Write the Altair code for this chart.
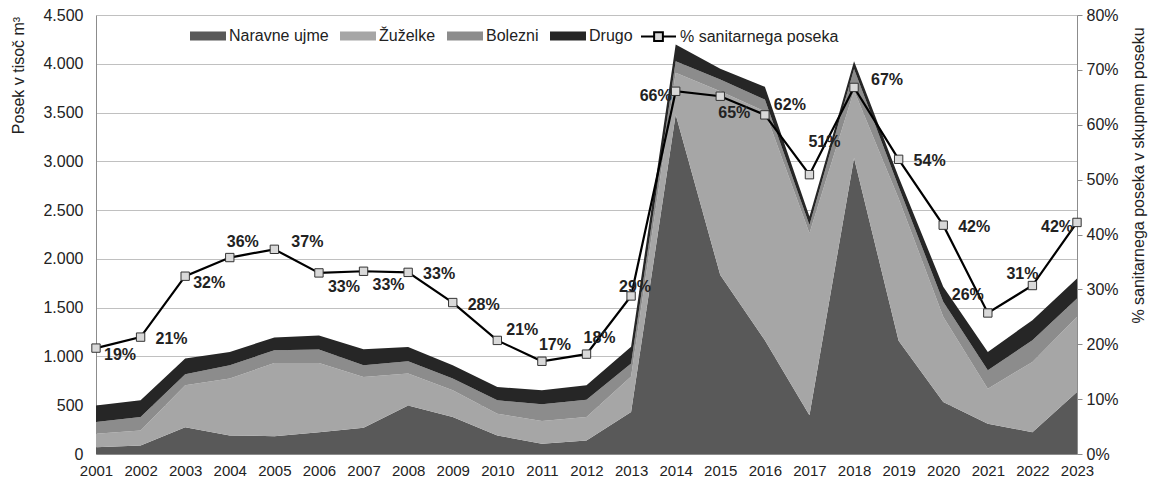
import altair as alt
import pandas as pd

# ---------------- data ----------------
years = list(range(2001, 2024))
naravne_ujme = [70, 87, 275, 190, 183, 224, 269, 498, 378, 190, 105, 139, 430,
                3479, 1834, 1167, 396, 3034, 1160, 532, 310, 224, 635]
zuzelke = [138, 154, 429, 583, 750, 709, 520, 326, 275, 223, 232, 239, 365,
           429, 1885, 2346, 1867, 693, 1460, 874, 360, 720, 771]
bolezni = [119, 137, 113, 137, 131, 138, 121, 127, 120, 137, 172, 179, 132,
           119, 119, 120, 85, 220, 120, 154, 188, 222, 189]
drugo = [171, 172, 161, 136, 130, 144, 164, 147, 137, 137, 144, 147, 173,
         171, 110, 131, 86, 80, 100, 154, 188, 206, 205]
pct_sanitarni = [19.3, 21.3, 32.4, 35.8, 37.3, 33.0, 33.3, 33.1, 27.6, 20.7, 16.9, 18.2, 28.8,
                 66.1, 65.2, 61.8, 50.9, 66.8, 53.7, 41.7, 25.7, 30.7, 42.2]
# data-label placement category for each year (Excel-like manual placement)
label_place = ["br", "r", "br", "a", "rh", "b", "b", "r", "r", "ar", "a", "a", "an",
               "l", "bn", "ar", "aa", "rh", "r", "r", "al", "al2", "l"]

series_names = ["Naravne ujme", "Žuželke", "Bolezni", "Drugo"]
line_name = "% sanitarnega poseka"

# ---------------- styles ----------------
series_colors = ["#595959", "#a6a6a6", "#8c8c8c", "#262626"]
place_offsets = {
    "r": (31, 2), "rh": (33, -7), "br": (24, 7), "b": (25, 14), "bn": (14, 17),
    "a": (13, -16), "ar": (25, -10), "an": (4, -9), "aa": (15, -33),
    "l": (-20, 5), "al": (-20, -18), "al2": (-10, -12),
}
FONT = "Liberation Sans"
TXT = "#222222"

# ---------------- tables ----------------
rows = []
for i, (name, vals) in enumerate(zip(series_names, [naravne_ujme, zuzelke, bolezni, drugo])):
    for y, v in zip(years, vals):
        rows.append({"year": y, "series": name, "value": v, "ord": i})
df_area = pd.DataFrame(rows)

df_pct = pd.DataFrame({
    "year": years,
    "pct": pct_sanitarni,
    "label": [f"{round(p):.0f}%" for p in pct_sanitarni],
    "place": label_place,
    "name": [line_name] * len(years),
})

x_enc = alt.X("year:Q",
              scale=alt.Scale(domain=[2001, 2023], nice=False, zero=False),
              axis=alt.Axis(values=years, format="d", title=None, labelFontSize=15,
                            labelFont=FONT, labelColor=TXT, ticks=False,
                            domainColor="#8c8c8c", grid=False, labelPadding=9,
                            labelOverlap=False, labelFlush=False))

left_axis = alt.Axis(values=list(range(0, 4501, 500)),
                     labelExpr="replace(format(datum.value, ','), ',', '.')",
                     grid=True, gridColor="#c0c0c0", gridWidth=1,
                     domainColor="#8c8c8c", ticks=False, labelPadding=13,
                     labelFontSize=16, labelFont=FONT, labelColor=TXT,
                     title="Posek v tisoč m³", titleFont=FONT, titleFontSize=16,
                     titleFontWeight="normal", titleColor=TXT, titleAngle=-90,
                     titleX=-78, titleY=60, titleAlign="center", titleBaseline="middle")

right_axis = alt.Axis(values=list(range(0, 81, 10)), labelExpr="datum.value + '%'",
                      orient="right", grid=False, domainColor="#8c8c8c",
                      tickColor="#8c8c8c", tickSize=5, labelPadding=4,
                      labelFontSize=16, labelFont=FONT, labelColor=TXT,
                      title="% sanitarnega poseka v skupnem poseku", titleFont=FONT,
                      titleFontSize=16, titleFontWeight="normal", titleColor=TXT,
                      titleAngle=-90, titleX=61, titleY=160, titleAlign="center",
                      titleBaseline="middle")

areas = alt.Chart(df_area).mark_area(opacity=1).encode(
    x=x_enc,
    y=alt.Y("value:Q", stack="zero", scale=alt.Scale(domain=[0, 4500], nice=False),
            axis=left_axis),
    color=alt.Color("series:N",
                    scale=alt.Scale(domain=series_names, range=series_colors),
                    legend=alt.Legend(title=None, orient="none", legendX=94, legendY=3,
                                      direction="horizontal", padding=0,
                                      symbolType="M-1,-0.25H1V0.25H-1Z", symbolSize=1296,
                                      symbolStrokeWidth=0, labelOffset=3, columnPadding=11,
                                      labelFont=FONT, labelFontSize=16, labelColor=TXT)),
    order=alt.Order("ord:Q", sort="ascending"),
)

y_pct = alt.Y("pct:Q", scale=alt.Scale(domain=[0, 80], nice=False), axis=right_axis)

line = alt.Chart(df_pct).mark_line(strokeWidth=2.2).encode(
    x=x_enc, y=y_pct,
    stroke=alt.Stroke("name:N", scale=alt.Scale(domain=[line_name], range=["#000000"]),
                      legend=alt.Legend(title=None, orient="none", legendX=544, legendY=3,
                                        padding=0,
                                        symbolType="M-1,0H-0.25M0.25,0H1M-0.25,-0.25H0.25V0.25H-0.25Z",
                                        symbolSize=1225, symbolStrokeWidth=2,
                                        symbolFillColor="#d9d9d9", labelOffset=3,
                                        labelFont=FONT, labelFontSize=16, labelColor=TXT)),
)

points = alt.Chart(df_pct).mark_point(shape="square", filled=True, size=70, opacity=1,
                                      fill="#d9d9d9", stroke="#333333",
                                      strokeWidth=1).encode(x=x_enc, y=y_pct)

texts = []
for cat, (dx, dy) in place_offsets.items():
    texts.append(
        alt.Chart(df_pct).transform_filter(alt.datum.place == cat).mark_text(
            dx=dx, dy=dy, font=FONT, fontSize=16, fontWeight="bold", color=TXT,
            align="center", baseline="middle").encode(x=x_enc, y=y_pct, text="label:N")
    )

right_layer = alt.layer(line, points, *texts)

chart = alt.layer(areas, right_layer).resolve_scale(y="independent").properties(
    width=981, height=439,
    autosize=alt.AutoSizeParams(type="none"),
    padding={"left": 88, "top": 7, "right": 74, "bottom": 30},
    background="white",
).configure_view(stroke=None)

chart.save("out.html", embed_options={"renderer": "svg", "actions": False})
